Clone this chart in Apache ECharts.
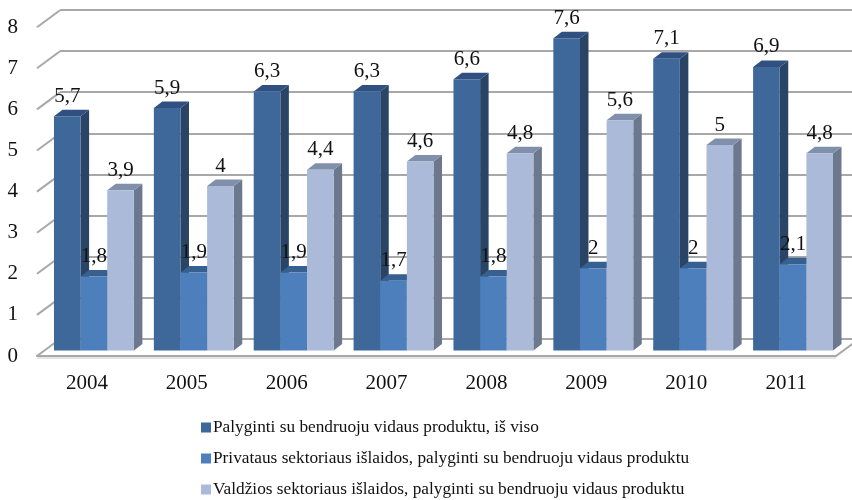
<!DOCTYPE html>
<html>
<head>
<meta charset="utf-8">
<style>html,body{margin:0;padding:0;background:#fff}#c{width:852px;height:500px}</style>
<script src="https://cdn.jsdelivr.net/npm/echarts@6/dist/echarts.min.js"></script>
</head>
<body>
<div id="c"></div>
<script>
// Research spending as a share of GDP, by year
const years = ['2004','2005','2006','2007','2008','2009','2010','2011'];
const totalShare = [5.7,5.9,6.3,6.3,6.6,7.6,7.1,6.9];
const privateShare = [1.8,1.9,1.9,1.7,1.8,2,2,2.1];
const publicShare = [3.9,4,4.4,4.6,4.8,5.6,5,4.8];
const yTicks = [0,1,2,3,4,5,6,7,8];
const seriesNames = [
  'Palyginti su bendruoju vidaus produktu, iš viso',
  'Privataus sektoriaus išlaidos, palyginti su bendruoju vidaus produktu',
  'Valdžios sektoriaus išlaidos, palyginti su bendruoju vidaus produktu'
];

// Shaded faces of each column
const palette = [
  {front:'#3e6899', top:'#2f5080', side:'#2a4466'},
  {front:'#4c7fbc', top:'#36608f', side:'#37557c'},
  {front:'#aabad8', top:'#8090ab', side:'#6b788d'}
];

const FONT = '"Liberation Serif","Times New Roman",serif';
const WALL_DX = 23, WALL_DY = 17;      // floor depth in the oblique projection
const BAR_DX = 8.5, BAR_DY = 6.5;      // column depth
const BAR_LIFT = 5.5;                  // columns stand slightly back from the floor edge
const BAR_BAND = 0.2667;               // column width as a share of the category band
const BAR_START = 0.33;                // first column's offset left of band centre
const WALL_COLOR = '#a8a8a8';

const fmt = v => String(v).replace('.', ',');

function barSeries(name, values, slot) {
  const c = palette[slot];
  return {
    name, type: 'custom', xAxisIndex: 0, yAxisIndex: 0, clip: false,
    itemStyle: {color: c.front},
    encode: {x: 0, y: 1},
    data: values.map((v, i) => [i, v]),
    renderItem(params, api) {
      const v = api.value(1);
      const band = api.size([1, 0])[0];
      const w = band * BAR_BAND;
      const top = api.coord([api.value(0), v]);
      const base = api.coord([api.value(0), 0]);
      const x0 = top[0] - band * BAR_START + slot * w;
      const x1 = x0 + w;
      const yT = top[1] - BAR_LIFT;
      const yB = base[1] - BAR_LIFT;
      return {type: 'group', children: [
        {type: 'polygon', shape: {points: [[x1,yT],[x1+BAR_DX,yT-BAR_DY],[x1+BAR_DX,yB-BAR_DY],[x1,yB]]}, style: {fill: c.side}},
        {type: 'polygon', shape: {points: [[x0,yT],[x0+BAR_DX,yT-BAR_DY],[x1+BAR_DX,yT-BAR_DY],[x1,yT]]}, style: {fill: c.top}},
        {type: 'rect', shape: {x: x0, y: yT, width: w, height: yB - yT}, style: {fill: c.front}},
        {type: 'text', z2: 100, style: {text: fmt(v), x: (x0 + x1) / 2, y: yT - 20, fill: '#111', font: '21px ' + FONT, align: 'center', verticalAlign: 'middle'}}
      ]};
    }
  };
}

// Oblique edges joining the front scale to the back wall, plus the floor's right edge
const wallEdges = {
  type: 'custom', xAxisIndex: 0, yAxisIndex: 0, clip: false, silent: true, z: 1,
  encode: {y: 0},
  data: yTicks.map(t => [t]),
  renderItem(params, api) {
    const t = api.value(0);
    const cs = params.coordSys;
    const y = api.coord([0, t])[1];
    const line = (x1, y1, x2, y2, color, width) => ({type: 'line', shape: {x1, y1, x2, y2}, style: {stroke: color, lineWidth: width}});
    const kids = [line(cs.x, y, cs.x + WALL_DX, y - WALL_DY, WALL_COLOR, 2)];
    if (t === 0) {
      const xr = cs.x + cs.width;
      kids.push(line(xr, y, xr + WALL_DX, y - WALL_DY, WALL_COLOR, 2));
      kids.push(line(cs.x, y + 2, xr, y + 2, '#dcdcdc', 1.5));
    }
    return {type: 'group', children: kids};
  }
};

const chart = echarts.init(document.getElementById('c'), null, {renderer: 'canvas'});
chart.setOption({
  animation: false,
  backgroundColor: '#fff',
  grid: [
    {left: 37, width: 799, top: 27.2, height: 328.8},
    {left: 60, right: 0, top: 10, height: 328.8}
  ],
  xAxis: [
    {type: 'category', gridIndex: 0, data: years, boundaryGap: true,
      axisTick: {show: false},
      axisLine: {lineStyle: {color: WALL_COLOR, width: 2}},
      axisLabel: {color: '#111', fontFamily: FONT, fontSize: 21, margin: 17}},
    {type: 'category', gridIndex: 1, data: years, show: false}
  ],
  yAxis: [
    {type: 'value', gridIndex: 0, min: 0, max: 8, interval: 1,
      axisLine: {show: false}, axisTick: {show: false}, splitLine: {show: false},
      axisLabel: {color: '#111', fontFamily: FONT, fontSize: 21, margin: 19}},
    {type: 'value', gridIndex: 1, min: 0, max: 8, interval: 1,
      axisLine: {show: false}, axisTick: {show: false}, axisLabel: {show: false},
      splitLine: {show: true, lineStyle: {color: WALL_COLOR, width: 2}}}
  ],
  legend: {
    orient: 'vertical', left: 201, top: 419, height: 81, padding: 0, itemGap: 14,
    icon: 'rect', itemWidth: 10, itemHeight: 10,
    data: seriesNames,
    textStyle: {color: '#111', fontFamily: FONT, fontSize: 17.3, padding: [0, 0, 0, -3]}
  },
  series: [
    wallEdges,
    barSeries(seriesNames[0], totalShare, 0),
    barSeries(seriesNames[1], privateShare, 1),
    barSeries(seriesNames[2], publicShare, 2)
  ]
});
</script>
</body>
</html>
